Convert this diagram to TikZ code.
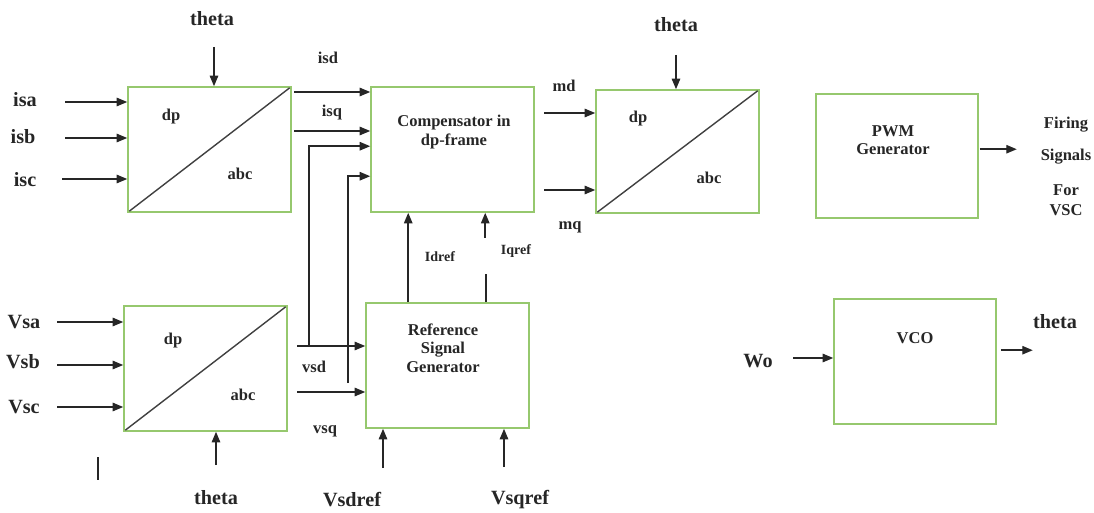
\documentclass[tikz,border=0pt]{standalone}
\usepackage{fontspec}
\setmainfont{Liberation Serif}
\usepackage{xcolor}
\usepackage{tikz}
\usetikzlibrary{calc, positioning, arrows.meta}
\definecolor{boxgreen}{RGB}{150,200,110}
\begin{document}
\begin{tikzpicture}[x=0.02cm, y=-0.02cm,
        blk/.style={rectangle, draw=boxgreen, line width=0.9pt, minimum width=3.26cm,
            minimum height=2.5cm, inner sep=0pt},
        sig/.style={font=\fontsize{11.5}{13}\selectfont\bfseries, text=black!85, inner sep=1pt},
        sub/.style={font=\fontsize{9.4}{10.6}\selectfont\bfseries, text=black!85, inner sep=1pt,
            align=center},
        tiny/.style={font=\fontsize{8}{9}\selectfont\bfseries, text=black!85, inner sep=1pt},
        arr/.style={draw=black!85, line width=0.85pt, -{Triangle[length=6pt, width=4.8pt]}},
        wire/.style={draw=black!85, line width=0.85pt},
        diag/.style={draw=black!75, line width=0.8pt, shorten <=1.5pt, shorten >=1.5pt}
    ]
    \useasboundingbox (0,0) rectangle (1094,513);
    \node[blk] (tri) at (209.5,149.5) {};
    \node[blk] (comp) at (452.5,149.5) {};
    \node[blk, minimum height=2.46cm] (itri) at (677.5,151.5) {};
    \node[blk, minimum width=3.24cm, minimum height=2.48cm] (pwm) at (897,156) {};
    \node[blk] (vtri) at (205.5,368.5) {};
    \node[blk] (ref) at (447.5,365.5) {};
    \node[blk, minimum width=3.24cm] (vco) at (915,361.5) {};
    \draw[diag] (tri.south west) -- (tri.north east);
    \draw[diag] (itri.south west) -- (itri.north east);
    \draw[diag] (vtri.south west) -- (vtri.north east);
    \node[sub] (tridp) at (171,117) {dp};
    \node[sub] (triabc) at (240,174) {abc};
    \node[sub] (comptxt) at (454,132) {Compensator in\\dp-frame};
    \node[sub] (itridp) at (638,119) {dp};
    \node[sub] (itriabc) at (709,178) {abc};
    \node[sub] (pwmtxt) at (893,140) {PWM\\Generator};
    \node[sub] (vtridp) at (173,341) {dp};
    \node[sub] (vtriabc) at (243,395) {abc};
    \node[sub] (reftxt) at (443,348) {Reference\\Signal\\Generator};
    \node[sub] (vcotxt) at (915,338) {VCO};
    \node[sig] (th1) at (212,19) {theta};
    \coordinate (th1-s) at (214,47);
    \draw[arr] (th1-s) -- (th1-s |- tri.north);
    \node[sig] (isa) at (25,100) {isa};
    \node[sig] (isb) at (23,137) {isb};
    \node[sig] (isc) at (25,180) {isc};
    \coordinate (isa-s) at (65,102);
    \coordinate (isb-s) at (65,138);
    \coordinate (isc-s) at (62,179);
    \draw[arr] (isa-s) -- (isa-s -| tri.west);
    \draw[arr] (isb-s) -- (isb-s -| tri.west);
    \draw[arr] (isc-s) -- (isc-s -| tri.west);
    \node[sub] (isd) at (328,58) {isd};
    \node[sub] (isq) at (332,113) {isq};
    \coordinate (isd-s) at (294,92);
    \coordinate (isq-s) at (294,131);
    \draw[arr] (isd-s) -- (isd-s -| comp.west);
    \draw[arr] (isq-s) -- (isq-s -| comp.west);
    \coordinate (comp-in3) at ($(comp.north west)+(0,60)$);
    \coordinate (comp-in4) at ($(comp.north west)+(0,90)$);
    \node[sig] (vsa) at (24,322) {Vsa};
    \node[sig] (vsb) at (23,362) {Vsb};
    \node[sig] (vsc) at (24,407) {Vsc};
    \coordinate (vsa-s) at (57,322);
    \coordinate (vsb-s) at (57,365);
    \coordinate (vsc-s) at (57,407);
    \draw[arr] (vsa-s) -- (vsa-s -| vtri.west);
    \draw[arr] (vsb-s) -- (vsb-s -| vtri.west);
    \draw[arr] (vsc-s) -- (vsc-s -| vtri.west);
    \node[sub] (vsd) at (314,367) {vsd};
    \node[sub] (vsq) at (325,431) {vsq};
    \coordinate (vsd-s) at (297,346);
    \coordinate (vsd-j) at (309,346);
    \coordinate (vsq-s) at (297,392);
    \coordinate (vsq-j) at (348,383);
    \draw[arr] (vsd-s) -- (vsd-s -| ref.west);
    \draw[arr] (vsq-s) -- (vsq-s -| ref.west);
    \draw[arr] (vsd-j) |- (comp-in3);
    \draw[arr] (vsq-j) |- (comp-in4);
    \node[tiny] (idref) at (440,257) {Idref};
    \node[tiny] (iqref) at (516,251) {Iqref};
    \coordinate (idref-s) at ($(ref.north west)+(43,0)$);
    \coordinate (iqref-s) at ($(ref.north west)+(121,0)$);
    \coordinate (iqref-e) at ($(comp.south west)+(115,25)$);
    \draw[arr] (idref-s) -- (idref-s |- comp.south);
    \draw[wire] (iqref-s) -- ++(0,-28);
    \draw[arr] (iqref-e) -- (iqref-e |- comp.south);
    \node[sub] (md) at (564,86) {md};
    \node[sub] (mq) at (570,227) {mq};
    \coordinate (md-s) at (544,113);
    \coordinate (mq-s) at (544,190);
    \draw[arr] (md-s) -- (md-s -| itri.west);
    \draw[arr] (mq-s) -- (mq-s -| itri.west);
    \node[sig] (th2) at (676,25) {theta};
    \coordinate (th2-s) at (676,55);
    \draw[arr] (th2-s) -- (th2-s |- itri.north);
    \coordinate (pwm-o) at ($(pwm.north east)+(1,56)$);
    \coordinate (pwm-e) at ($(pwm-o)+(37,0)$);
    \draw[arr] (pwm-o) -- (pwm-e);
    \node[sub] (fire) at (1066,125) {Firing};
    \node[sub] (sigs) at (1066,157) {Signals};
    \node[sub, font=\fontsize{9.4}{11.3}\selectfont\bfseries] (forvsc) at (1066,200) {For\\VSC};
    \node[sig] (wo) at (758,361) {Wo};
    \coordinate (wo-s) at (793,358);
    \draw[arr] (wo-s) -- (wo-s -| vco.west);
    \node[sig] (th3) at (1055,322) {theta};
    \coordinate (vco-o) at ($(vco.north east)+(4,52)$);
    \coordinate (vco-e) at ($(vco-o)+(32,0)$);
    \draw[arr] (vco-o) -- (vco-e);
    \node[sig] (th4) at (216,498) {theta};
    \coordinate (th4-s) at (216,465);
    \draw[arr] (th4-s) -- (th4-s |- vtri.south);
    \draw[wire] (98,457) -- (98,480);
    \node[sig] (vsdref) at (352,500) {Vsdref};
    \node[sig] (vsqref) at (520,500) {Vsqref};
    \coordinate (vsdref-s) at (383,468);
    \coordinate (vsqref-s) at (504,467);
    \draw[arr] (vsdref-s) -- (vsdref-s |- ref.south);
    \draw[arr] (vsqref-s) -- (vsqref-s |- ref.south);
\end{tikzpicture}
\end{document}
